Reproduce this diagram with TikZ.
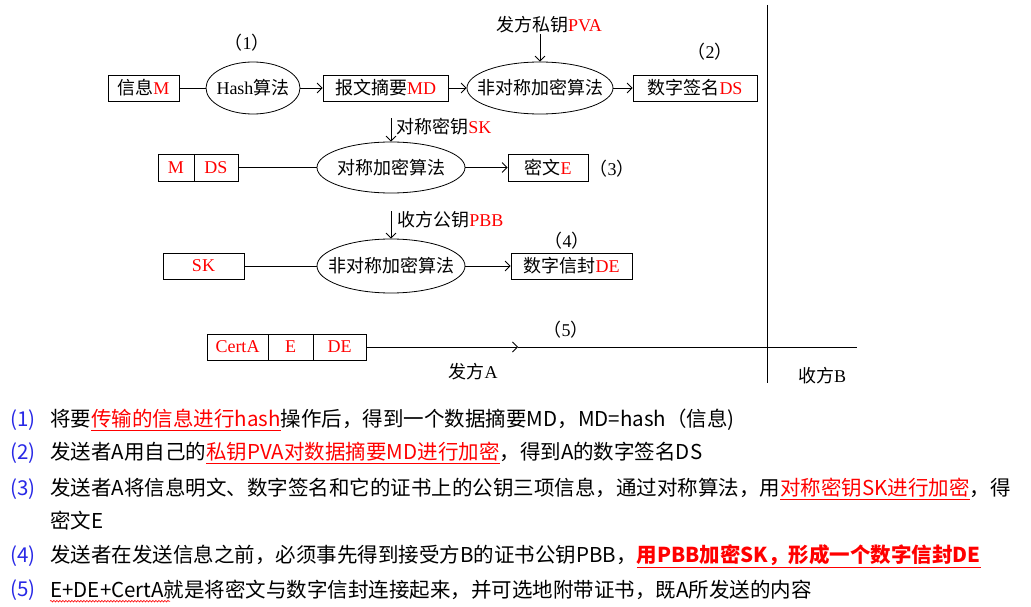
\documentclass[tikz,border=0pt]{standalone}
\usepackage{fontspec}
\setmainfont{Liberation Serif}
\newfontfamily\cjk{Noto Sans CJK SC}
\usetikzlibrary{shapes.geometric,arrows.meta,decorations.pathmorphing}
\definecolor{lblue}{RGB}{40,40,230}
\newcommand{\zh}[1]{{\cjk #1}}
\newcommand{\rd}[1]{\textcolor{red}{#1}}
\tikzset{
  box/.style={draw,minimum height=26pt,inner sep=0pt,font=\fontsize{18}{20}\selectfont},
  oval/.style={draw,ellipse,inner sep=0pt,font=\fontsize{18}{20}\selectfont},
  arr/.style={-{Straight Barb[length=5pt,width=10pt]}},
  lbl/.style={inner sep=0pt,font=\fontsize{18}{20}\selectfont},
  note/.style={anchor=west,inner sep=0pt,font=\fontsize{20.5}{24}\selectfont\cjk},
  num/.style={anchor=west,inner sep=0pt,text=lblue,font=\fontsize{20.5}{24}\selectfont\cjk}
}
\begin{document}
\begin{tikzpicture}[x=1pt,y=-1pt,line width=0.8pt]
\useasboundingbox (0,0) rectangle (1031,607);
% (1) hash, (2) signature
\node[box,minimum width=71pt] (m) at (143.5,88) {\zh{信息}\rd{M}};
\node[oval,minimum width=94pt,minimum height=52pt] (hash) at (253,88) {\makebox[0pt]{Hash\zh{算法}}};
\node[box,minimum width=125pt] (md) at (385.5,88) {\zh{报文摘要}\rd{MD}};
\node[oval,minimum width=146pt,minimum height=52pt] (asym1) at (540,88) {\makebox[0pt]{\zh{非对称加密算法}}};
\node[box,minimum width=124pt] (ds) at (695,88) {\zh{数字签名}\rd{DS}};
\node[lbl] (pva) at (549,25) {\zh{发方私钥}\rd{PVA}};
\node[lbl] (n1) at (247,43) {\zh{（}1\zh{）}};
\node[lbl] (n2) at (710,52) {\zh{（}2\zh{）}};
\draw (m) -- (hash);
\draw[arr] (hash) -- (md);
\draw[arr] (md) -- (asym1);
\draw[arr] (asym1) -- (ds);
\draw[arr] (pva.south -| asym1) -- (asym1);
% (3) symmetric
\node[box,minimum width=36pt,minimum height=27pt] (mb) at (176,167.5) {\rd{M}};
\node[box,minimum width=44pt,minimum height=27pt] (dsb) at (216,167.5) {\rd{DS}};
\node[oval,minimum width=148pt,minimum height=51pt] (sym) at (391,167.5) {\makebox[0pt]{\zh{对称加密算法}}};
\node[box,minimum width=80pt,minimum height=27pt] (e) at (548,167.5) {\zh{密文}\rd{E}};
\node[lbl,anchor=west] (sk) at (396,127) {\zh{对称密钥}\rd{SK}};
\node[lbl] (n3) at (612,169) {\zh{（}3\zh{）}};
\draw (dsb) -- (sym);
\draw[arr] (sym) -- (e);
\draw[arr] (sk.north west -| sym) -- (sym);
% (4) envelope
\node[box,minimum width=81pt] (skb) at (203.5,266) {\rd{SK}};
\node[oval,minimum width=148pt,minimum height=54pt] (asym2) at (391,266) {\makebox[0pt]{\zh{非对称加密算法}}};
\node[box,minimum width=121pt] (de) at (571.5,266) {\zh{数字信封}\rd{DE}};
\node[lbl,anchor=west] (pbb) at (397,220) {\zh{收方公钥}\rd{PBB}};
\node[lbl] (n4) at (567,241) {\zh{（}4\zh{）}};
\draw (skb) -- (asym2);
\draw[arr] (asym2) -- (de);
\draw[arr] (pbb.north west -| asym2) -- (asym2);
% (5) send
\node[box,minimum width=61pt] (cert) at (237.5,347) {\rd{CertA}};
\node[box,minimum width=45pt] (eb) at (290.5,347) {\rd{E}};
\node[box,minimum width=53pt] (deb) at (339.5,347) {\rd{DE}};
\node[lbl] (n5) at (566,330) {\zh{（}5\zh{）}};
\node[lbl] (sa) at (473,372) {\zh{发方}A};
\node[lbl] (rb) at (822,376) {\zh{收方}B};
\coordinate (tip) at (518,347);
\coordinate (rend) at (857,347);
\coordinate (vtop) at (767,5);
\coordinate (vbot) at (767,383);
\draw[arr] (deb) -- (tip);
\draw (tip) -- (rend);
\draw[line width=1pt] (vtop) -- (vbot);
% notes
\node[num] (k1) at (10,420) {(1)};
\node[note] (t1) at (50,420) {将要\rd{\underline{传输的信息进行hash}}操作后，得到一个数据摘要MD，MD=hash（信息)};
\node[num] (k2) at (10,453) {(2)};
\node[note] (t2) at (50,453) {发送者A用自己的\rd{\underline{私钥PVA对数据摘要MD进行加密}}，得到A的数字签名DS};
\node[num] (k3) at (10,489) {(3)};
\node[note] (t3) at (50,489) {发送者A将信息明文、数字签名和它的证书上的公钥三项信息，通过对称算法，用\rd{\underline{对称密钥SK进行加密}}，得};
\node[note] (t3b) at (50,521) {密文E};
\node[num] (k4) at (10,556) {(4)};
\node[note] (t4) at (50,556) {发送者在发送信息之前，必须事先得到接受方B的证书公钥PBB，\rd{\underline{\bfseries 用PBB加密SK，形成一个数字信封DE}}};
\node[num] (k5) at (10,590) {(5)};
\node[note] (t5) at (50,590) {E+DE+CertA就是将密文与数字信封连接起来，并可选地附带证书，既A所发送的内容};
\draw[red,line width=0.6pt,decorate,decoration={snake,amplitude=0.8pt,segment length=3pt}] ([yshift=-1pt]t5.south west) -- ++(120,0);
\end{tikzpicture}
\end{document}
